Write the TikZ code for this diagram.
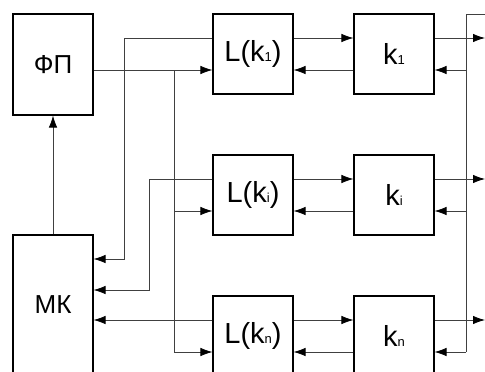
\documentclass[tikz,border=0pt]{standalone}
\usepackage{fontspec}
\setmainfont{Liberation Sans}
\usetikzlibrary{arrows.meta}

\newcommand{\bigtxt}{\fontsize{29}{30}\selectfont}
\newcommand{\midtxt}{\fontsize{26}{27}\selectfont}
\newcommand{\idx}[1]{{\fontsize{13}{13}\selectfont #1}}

\tikzstyle{block} = [rectangle, draw=black, line width=1.1pt, minimum width=80pt, inner sep=0pt]
\tikzstyle{line} = [draw=black!75, line width=0.8pt, -{Latex[length=12pt,width=8.5pt,color=black]}]
\tikzstyle{wire} = [draw=black!75, line width=0.8pt]

\begin{document}
\begin{tikzpicture}[x=1pt, y=-1pt]
    \useasboundingbox (0,0) rectangle (485,372);
    \clip (0,0) rectangle (485,372);
    % Place nodes
    \node [block, minimum height=101pt] (fp) at (53,64.5) {\midtxt ФП};
    \node [block, minimum height=140pt] (mk) at (53,305) {\midtxt МК};
    \node [block, minimum height=80pt] (L_1) at (253,54) {\bigtxt L(k\idx{1})};
    \node [block, minimum height=80pt] (k_1) at (394,54) {\bigtxt k\idx{1}};
    \node [block, minimum height=80pt] (L_i) at (253,195) {\bigtxt L(k\idx{i})};
    \node [block, minimum height=80pt] (k_i) at (394,195) {\bigtxt k\idx{i}};
    \node [block, minimum height=80pt] (L_n) at (253,336) {\bigtxt L(k\idx{n})};
    \node [block, minimum height=80pt] (k_n) at (394,336) {\bigtxt k\idx{n}};
    \coordinate (split) at (174,70);
    \coordinate (bus_in) at (485,14);
    \coordinate (bus_top) at (466,14);
    \coordinate (bus_bot) at (466,352);

    % Draw edges
    \path [line] (mk) -- (fp);
    \path [line] ([yshift=-16pt]L_1.west -| fp.east) -- ([yshift=-16pt]L_1.west);
    \path [line] (split) |- ([yshift=-16pt]L_i.west);
    \path [line] (split) |- ([yshift=-16pt]L_n.west);
    \path [line] ([yshift=16pt]L_1.west) -- ++(-88,0) |- ([yshift=46pt]mk.east);
    \path [line] ([yshift=16pt]L_i.west) -- ++(-63,0) |- ([yshift=15pt]mk.east);
    \path [line] ([yshift=16pt]L_n.west) -- ([yshift=-15pt]mk.east);
    \path [wire] (bus_in) -- (bus_top) -- (bus_bot);
    \foreach \r in {1,i,n} {
        \path [line] ([yshift=16pt]L_\r.east) -- ([yshift=16pt]k_\r.west);
        \path [line] ([yshift=-16pt]k_\r.west) -- ([yshift=-16pt]L_\r.east);
        \path [line] ([yshift=16pt]k_\r.east) -- ([yshift=16pt]k_\r.east -| bus_in);
        \path [line] ([yshift=-16pt]k_\r.east -| bus_top) -- ([yshift=-16pt]k_\r.east);
    }

\end{tikzpicture}
\end{document}
